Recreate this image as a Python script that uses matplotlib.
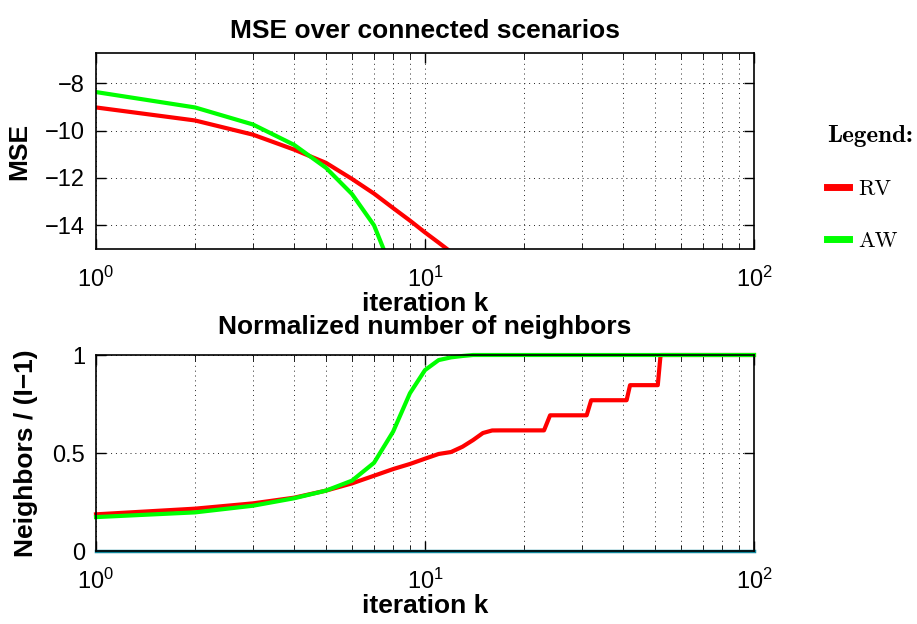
import matplotlib
matplotlib.use("Agg")
import matplotlib.pyplot as plt
import numpy as np

plt.rcParams["font.family"] = ["Liberation Sans", "DejaVu Sans"]
plt.rcParams["axes.unicode_minus"] = True

# MSE (top panel)
k_mse = np.arange(1, 21)
mse_rv = [-9.02, -9.57, -10.17, -10.8, -11.36, -12.04, -12.66, -13.27, -13.8, -14.3,
          -14.73, -15.13, -15.5, -15.85, -16.2, -16.5, -16.8, -17.1, -17.4, -17.7]
mse_aw = [-8.37, -9.02, -9.74, -10.6, -11.57, -12.68, -14.0, -16.0, -18.0, -20.0,
          -22.0, -24.0, -26.0, -28.0, -30.0, -32.0, -34.0, -36.0, -38.0, -40.0]

# normalized number of neighbors (bottom panel)
k_nb = np.arange(1, 101)
nb_rv_head = [0.187, 0.216, 0.243, 0.272, 0.308, 0.345, 0.384, 0.418, 0.444, 0.471,
              0.495, 0.505, 0.532, 0.566, 0.602, 0.615]
nb_rv = (nb_rv_head
         + [8 / 13] * (23 - 16)
         + [9 / 13] * (31 - 23)
         + [10 / 13] * (41 - 31)
         + [11 / 13] * (51 - 41)
         + [1.0] * (100 - 51))
nb_aw_head = [0.173, 0.197, 0.231, 0.269, 0.308, 0.359, 0.45, 0.609, 0.805, 0.923,
              0.974, 0.988, 0.995]
nb_aw = nb_aw_head + [1.0] * (100 - len(nb_aw_head))
nb_zero = [0.0] * 100

red = "#ff0000"
green = "#00ff00"
teal = "#10879c"

fig = plt.figure(figsize=(9.17, 6.24), dpi=100)
ax1 = fig.add_axes([96 / 917, 1 - 249 / 624, 658 / 917, 196 / 624])
ax2 = fig.add_axes([96 / 917, 1 - 551 / 624, 658 / 917, 196 / 624])

ax1.plot(k_mse, mse_rv, color=red, lw=3, label="RV")
ax1.plot(k_mse, mse_aw, color=green, lw=3, label="AW")
ax1.set_ylim(-15, -6.72)
ax1.set_yticks([-14, -12, -10, -8])
ax1.set_title("MSE over connected scenarios", fontsize=19, fontweight="bold", pad=11)
ax1.set_ylabel("MSE", fontsize=19, fontweight="bold", labelpad=10)

ax2.plot(k_nb, nb_zero, color=teal, lw=2.5, clip_on=False)
ax2.plot(k_nb, nb_rv, color=red, lw=3, clip_on=False)
ax2.plot(k_nb, nb_aw, color=green, lw=3, clip_on=False)
ax2.set_ylim(0, 1)
ax2.set_yticks([0, 0.5, 1])
ax2.set_yticklabels(["0", "0.5", "1"])
ax2.set_title("Normalized number of neighbors", fontsize=19, fontweight="bold", pad=15)
ax2.set_ylabel("Neighbors / (I\u22121)", fontsize=19, fontweight="bold", labelpad=10)

for ax in (ax1, ax2):
    ax.set_xscale("log")
    ax.set_xlim(1, 100)
    ax.set_xlabel("iteration k", fontsize=19, fontweight="bold", labelpad=0)
    ax.tick_params(which="both", direction="in", top=True, right=True, labelsize=17)
    ax.tick_params(which="major", length=7, width=1)
    ax.tick_params(which="minor", length=4)
    ax.tick_params(axis="x", which="major", pad=13)
    ax.tick_params(axis="y", which="major", pad=8)
    ax.grid(True, which="major", axis="both", color="#222222", linestyle=(0, (1, 4)), lw=0.7)
    ax.grid(True, which="minor", axis="x", color="#222222", linestyle=(0, (1, 4)), lw=0.7)
    for s in ax.spines.values():
        s.set_linewidth(1.2)

handles = ax1.get_lines()
leg = fig.legend(handles, ["RV", "AW"], loc="upper left", bbox_to_anchor=(0.902, 0.799),
                 frameon=False, prop={"family": "cmr10", "size": 16},
                 title="Legend:", title_fontproperties={"family": "cmb10", "size": 18},
                 labelspacing=1.45, handlelength=1.0, handletextpad=0.4, borderpad=0,
                 borderaxespad=0)
leg._legend_box.align = "left"
for line in leg.get_lines():
    line.set_linewidth(5)

fig.savefig("out.png", dpi=100)
